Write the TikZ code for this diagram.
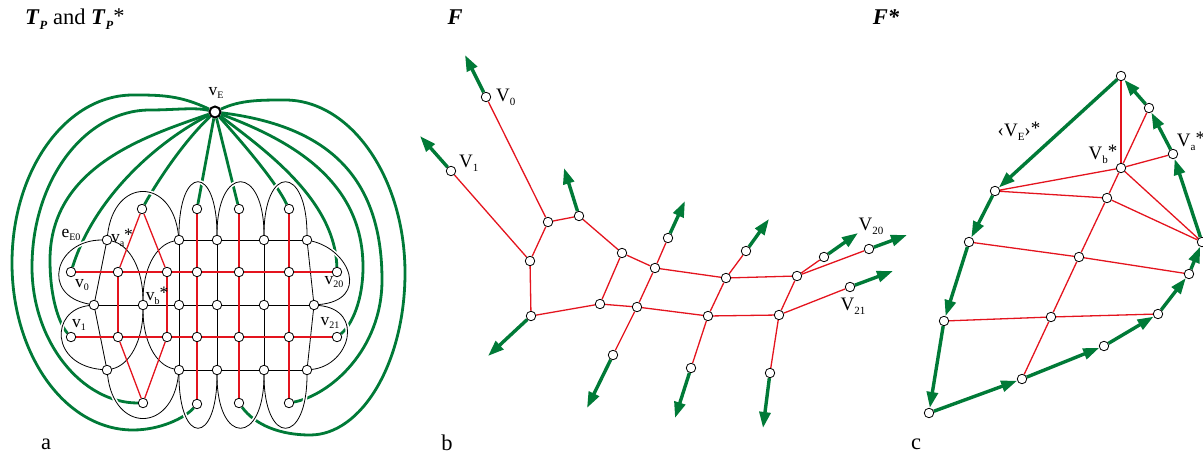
\documentclass[tikz,border=0pt]{standalone}
\usepackage{fontspec}
\setmainfont{Liberation Serif}
\usetikzlibrary{arrows.meta}
\definecolor{myred}{RGB}{228,20,30}
\definecolor{mygreen}{RGB}{0,122,55}
\pgfdeclarelayer{back}
\pgfsetlayers{back,main}
\newcommand{\sbA}[1]{\raisebox{-0.22em}{\fontsize{10}{10}\selectfont #1}}
\newcommand{\sbB}[1]{\raisebox{-0.22em}{\fontsize{11}{11}\selectfont #1}}
\newcommand{\blackpaths}[1]{%
  \draw[#1] (k1) .. controls (55,240) and (40,295) .. (m0);
  \draw[#1] (m0) .. controls (50,310) and (50,365) .. (n1);
  \draw[#1] (k1) -- (m0) -- (n1);
  \draw[#1] (k1) .. controls (114,177) and (172,177) .. (k2);
  \draw[#1] (n1) .. controls (114,433) and (172,433) .. (n2);
  \draw[#1] (k1) .. controls (130,245) and (143,270) .. (m1);
  \draw[#1] (m1) .. controls (143,340) and (130,365) .. (n1);
  \draw[#1] (k2) .. controls (155,245) and (143,270) .. (m1);
  \draw[#1] (m1) .. controls (143,340) and (155,365) .. (n2);
  \draw[#1] (k2) .. controls (179,164) and (217,164) .. (k3);
  \draw[#1] (k3) .. controls (217,164) and (264,164) .. (k4);
  \draw[#1] (k4) .. controls (264,164) and (307,164) .. (k5);
  \draw[#1] (n2) .. controls (179,446) and (217,446) .. (n3);
  \draw[#1] (n3) .. controls (217,446) and (264,446) .. (n4);
  \draw[#1] (n4) .. controls (264,446) and (307,446) .. (n5);
  \draw[#1] (k2) -- (k3) -- (k4) -- (k5);
  \draw[#1] (m0) -- (m1) -- (m2) -- (m3) -- (m4) -- (m5);
  \draw[#1] (n2) -- (n3) -- (n4) -- (n5);
  \draw[#1] (k2) -- (m2) -- (n2);
  \draw[#1] (k3) -- (m3) -- (n3);
  \draw[#1] (k4) -- (m4) -- (n4);
  \draw[#1] (k5) -- (m5) -- (n5);
  \draw[#1] (k5) .. controls (350,250) and (370,300) .. (m5);
  \draw[#1] (m5) .. controls (365,310) and (350,365) .. (n5);
}
\tikzset{
  dot/.style={circle, draw=black, fill=white, inner sep=0pt, minimum size=9.5pt, line width=0.8pt},
  bigdot/.style={circle, draw=black, fill=white, inner sep=0pt, minimum size=11pt, line width=2pt},
  gA/.style={draw=mygreen, line width=2.8pt},
  rd/.style={draw=myred, line width=1.3pt},
  garr/.style={draw=mygreen, line width=3.4pt, -{Triangle[length=16pt,width=11pt]}},
  labA/.style={inner sep=0pt, font=\fontsize{17.5}{17.5}\selectfont},
  labB/.style={inner sep=0pt, font=\fontsize{19}{19}\selectfont},
  ttl/.style={inner sep=0pt, font=\fontsize{22.5}{22.5}\selectfont},
}
\begin{document}
\begin{tikzpicture}[x=1pt,y=-1pt]
\useasboundingbox (0,0) rectangle (1203,457);
% ---------- titles ----------
\node[ttl, anchor=west] (tA) at (25,19) {\textbf{\textit{T}}\raisebox{-0.2em}{\fontsize{12.5}{12.5}\selectfont\textbf{\textit{P}}} and \textbf{\textit{T}}\raisebox{-0.2em}{\fontsize{12.5}{12.5}\selectfont\textbf{\textit{P}}}\raisebox{0.05em}{*}};
\node[ttl] (tB) at (455,17) {\textbf{\textit{F}}};
\node[ttl] (tC) at (886,17) {\textbf{\textit{F*}}};
\node[ttl] (pa) at (46,444) {a};
\node[ttl] (pb) at (447,443) {b};
\node[ttl] (pc) at (916,444) {c};
% ---------- panel a nodes ----------
\node[bigdot] (vE) at (215,112) {};
\node[dot] (k1) at (107,240) {};
\node[dot] (k2) at (179,240) {};
\node[dot] (k3) at (217,240) {};
\node[dot] (k4) at (264,240) {};
\node[dot] (k5) at (307,240) {};
\node[dot] (m0) at (94,305) {};
\node[dot] (m1) at (143,305) {};
\node[dot] (m2) at (179,305) {};
\node[dot] (m3) at (217,305) {};
\node[dot] (m4) at (264,305) {};
\node[dot] (m5) at (314,305) {};
\node[dot] (n1) at (107,370) {};
\node[dot] (n2) at (179,370) {};
\node[dot] (n3) at (217,370) {};
\node[dot] (n4) at (264,370) {};
\node[dot] (n5) at (307,370) {};
\node[dot] (t1) at (142,209) {};
\node[dot] (t2) at (197,209) {};
\node[dot] (t3) at (239,209) {};
\node[dot] (t4) at (289,209) {};
\node[dot] (a0) at (71,272) {};
\node[dot] (a1) at (118,272) {};
\node[dot] (a2) at (167,272) {};
\node[dot] (a3) at (197,272) {};
\node[dot] (a4) at (239,272) {};
\node[dot] (a5) at (289,272) {};
\node[dot] (a6) at (337,272) {};
\node[dot] (b0) at (71,337) {};
\node[dot] (b1) at (118,337) {};
\node[dot] (b2) at (167,337) {};
\node[dot] (b3) at (197,337) {};
\node[dot] (b4) at (239,337) {};
\node[dot] (b5) at (289,337) {};
\node[dot] (b6) at (337,337) {};
\node[dot] (u1) at (143,403) {};
\node[dot] (u2) at (197,404) {};
\node[dot] (u3) at (239,403) {};
\node[dot] (u4) at (289,403) {};
% labels a
\node[labA] (lvE) at (216,93) {v\sbA{E}};
\node[labA] (le) at (71,235) {e\sbA{E0}};
\node[labA] (lva) at (122,238) {v\sbA{a}\raisebox{0.1em}{*}};
\node[labA] (lv0) at (82,285) {v\sbA{0}};
\node[labA] (lv1) at (79,325) {v\sbA{1}};
\node[labA] (lvb) at (157,296) {v\sbA{b}\raisebox{0.1em}{*}};
\node[labA] (lv20) at (334,282) {v\sbA{20}};
\node[labA] (lv21) at (330,323) {v\sbA{21}};
% ---------- panel b nodes ----------
\node[dot] (p0) at (486,97) {};
\node[dot] (p1) at (451,171) {};
\node[dot] (pA) at (548,222) {};
\node[dot] (pB) at (579,216) {};
\node[dot] (pC) at (530,261) {};
\node[dot] (pD) at (531,316) {};
\node[dot] (pE) at (622,253) {};
\node[dot] (pF) at (655,268) {};
\node[dot] (pG) at (600,304) {};
\node[dot] (pH) at (637,307) {};
\node[dot] (pI) at (613,355) {};
\node[dot] (pJ) at (668,238) {};
\node[dot] (pK) at (726,278) {};
\node[dot] (pL) at (746,251) {};
\node[dot] (pM) at (708,316) {};
\node[dot] (pN) at (691,368) {};
\node[dot] (pO) at (797,276) {};
\node[dot] (pP) at (824,257) {};
\node[dot] (p20) at (869,249) {};
\node[dot] (pQ) at (779,315) {};
\node[dot] (p21) at (850,287) {};
\node[dot] (pR) at (770,373) {};
\coordinate (e0) at (465,55);
\coordinate (e1) at (420,136);
\coordinate (eB) at (564,168);
\coordinate (eD) at (488,356);
\coordinate (eI) at (587,408);
\coordinate (eJ) at (685,201);
\coordinate (eL) at (769,219);
\coordinate (eN) at (675,418);
\coordinate (eP) at (858,233);
\coordinate (e20) at (907,235);
\coordinate (e21) at (893,271);
\coordinate (eR) at (763,428);
\node[labB, anchor=west] (lV0) at (496,97) {V\sbB{0}};
\node[labB, anchor=west] (lV1) at (459,163) {V\sbB{1}};
\node[labB] (lV20) at (871,226) {V\sbB{20}};
\node[labB] (lV21) at (853,306) {V\sbB{21}};
% ---------- panel c nodes ----------
\node[dot] (cT) at (1121,76) {};
\node[dot] (cU) at (1149,108) {};
\node[dot] (cVa) at (1173,154) {};
\node[dot] (cVb) at (1121,168) {};
\node[dot] (cW) at (995,191) {};
\node[dot] (cX) at (1107,198) {};
\node[dot] (cY) at (1202,242) {};
\node[dot] (cZ) at (969,242) {};
\node[dot] (c1) at (1079,257) {};
\node[dot] (c2) at (1189,274) {};
\node[dot] (c3) at (944,321) {};
\node[dot] (c4) at (1051,317) {};
\node[dot] (c5) at (1158,314) {};
\node[dot] (c6) at (1104,346) {};
\node[dot] (c7) at (1022,379) {};
\node[dot] (c8) at (929,413) {};
\node[labB] (lVE) at (1019,131) {‹V\sbB{E}›\raisebox{0.1em}{*}};
\node[labB] (lVb) at (1103,154) {V\sbB{b}\raisebox{0.1em}{*}};
\node[labB] (lVa) at (1191,141) {V\sbB{a}\raisebox{0.1em}{*}};
% ---------- edges ----------
\begin{pgfonlayer}{back}
% green panel a
\draw[gA] (vE) .. controls (180,95) and (160,95) .. (133,95) .. controls (66,95) and (12,170) .. (12,263) .. controls (12,356) and (66,430) .. (133,430) .. controls (160,430) and (185,418) .. (u2);
\draw[gA] (vE) .. controls (195,107) and (175,110) .. (150,110) .. controls (85,110) and (32,180) .. (32,267) .. controls (32,342) and (82,403) .. (u1);
\draw[gA] (vE) .. controls (150,135) and (50,165) .. (50,260) .. controls (50,300) and (60,325) .. (b0);
\draw[gA] (vE) .. controls (160,140) and (95,195) .. (a0);
\draw[gA] (vE) .. controls (185,140) and (158,180) .. (t1);
\draw[gA] (vE) -- (t2);
\draw[gA] (vE) -- (t3);
\draw[gA] (vE) .. controls (240,140) and (275,180) .. (t4);
\draw[gA] (vE) .. controls (265,150) and (335,200) .. (a6);
\draw[gA] (vE) .. controls (290,140) and (363,180) .. (363,267) .. controls (363,300) and (352,325) .. (b6);
\draw[gA] (vE) .. controls (320,125) and (382,170) .. (382,280) .. controls (382,350) and (330,395) .. (u4);
\draw[gA] (vE) .. controls (240,100) and (260,100) .. (285,100) .. controls (351,100) and (405,178) .. (405,273) .. controls (405,362) and (362,435) .. (310,435) .. controls (280,435) and (255,425) .. (u3);
% black panel a
\blackpaths{draw=white, line width=4pt}
\blackpaths{draw=black, line width=0.8pt}
% red panel a
\draw[rd] (a0) -- (a1) -- (a2) -- (a3) -- (a4) -- (a5) -- (a6);
\draw[rd] (b0) -- (b1) -- (b2) -- (b3) -- (b4) -- (b5) -- (b6);
\draw[rd] (a1) -- (b1);
\draw[rd] (a2) -- (b2);
\draw[rd] (t2) -- (a3) -- (b3) -- (u2);
\draw[rd] (t3) -- (a4) -- (b4) -- (u3);
\draw[rd] (t4) -- (a5) -- (b5) -- (u4);
\draw[rd] (a1) -- (t1) -- (a2);
\draw[rd] (b1) -- (u1) -- (b2);
% panel b red
\draw[rd] (p0) -- (pA) -- (pC) -- (p1);
\draw[rd] (pA) -- (pB) -- (pE) -- (pF) -- (pK) -- (pO) -- (p20);
\draw[rd] (pC) -- (pD) -- (pG) -- (pH) -- (pM) -- (pQ) -- (p21);
\draw[rd] (pE) -- (pG);
\draw[rd] (pJ) -- (pF) -- (pH) -- (pI);
\draw[rd] (pL) -- (pK) -- (pM) -- (pN);
\draw[rd] (pO) -- (pQ) -- (pR);
\draw[rd] (pO) -- (pP);
% panel b green
\draw[garr] (p0) -- (e0);
\draw[garr] (p1) -- (e1);
\draw[garr] (pB) -- (eB);
\draw[garr] (pD) -- (eD);
\draw[garr] (pI) -- (eI);
\draw[garr] (pJ) -- (eJ);
\draw[garr] (pL) -- (eL);
\draw[garr] (pN) -- (eN);
\draw[garr] (pP) -- (eP);
\draw[garr] (p20) -- (e20);
\draw[garr] (p21) -- (e21);
\draw[garr] (pR) -- (eR);
% panel c red
\draw[rd] (cT) -- (cVb);
\draw[rd] (cVb) -- (cU);
\draw[rd] (cVb) -- (cVa);
\draw[rd] (cVb) -- (cW) -- (cX) -- (cY) -- (cVb);
\draw[rd] (cVb) -- (cX) -- (c1) -- (c4) -- (c7);
\draw[rd] (cZ) -- (c1) -- (c2);
\draw[rd] (c3) -- (c4) -- (c5);
% panel c green
\draw[garr] (cT) -- (cW);
\draw[garr] (cW) -- (cZ);
\draw[garr] (cZ) -- (c3);
\draw[garr] (c3) -- (c8);
\draw[garr] (c8) -- (c7);
\draw[garr] (c7) -- (c6);
\draw[garr] (c6) -- (c5);
\draw[garr] (c5) -- (c2);
\draw[garr] (c2) -- (cY);
\draw[garr] (cY) -- (cVa);
\draw[garr] (cVa) -- (cU);
\draw[garr] (cU) -- (cT);
\end{pgfonlayer}
\end{tikzpicture}
\end{document}
